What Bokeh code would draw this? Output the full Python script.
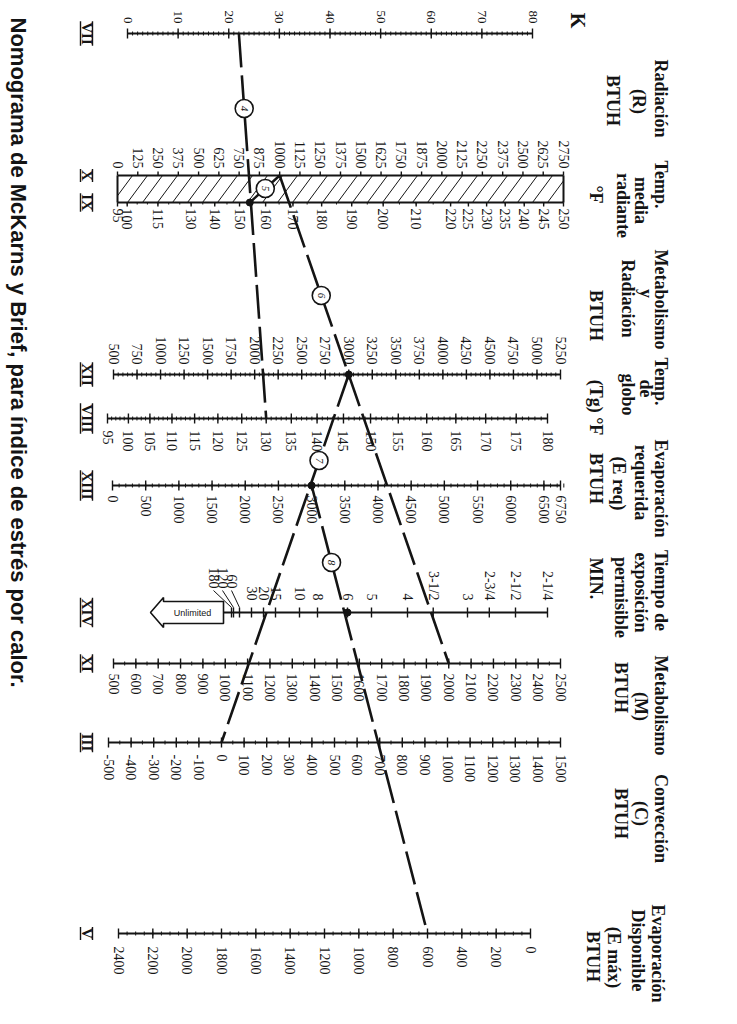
import numpy as np
from bokeh.plotting import figure
from bokeh.models import Range1d
from bokeh.core.properties import value
from bokeh.embed import file_html
from bokeh.resources import INLINE

# ---------------- scale values ----------------
K_LABELS = [0, 10, 20, 30, 40, 50, 60, 70, 80]
R_LABELS = [0, 125, 250, 375, 500, 625, 750, 875, 1000, 1125, 1250, 1375, 1500,
            1625, 1750, 1875, 2000, 2125, 2250, 2375, 2500, 2625, 2750]
TR_LABELS = [95, 100, 115, 130, 140, 150, 160, 170, 180, 190, 200, 210, 220,
             225, 230, 235, 240, 245, 250]
MR_LABELS = [500, 750, 1000, 1250, 1500, 1750, 2000, 2250, 2500, 2750, 3000,
             3250, 3500, 3750, 4000, 4250, 4500, 4750, 5000, 5250]
TG_LABELS = [95, 100, 105, 110, 115, 120, 125, 130, 135, 140, 145, 150, 155,
             160, 165, 170, 175, 180]
EREQ_LABELS = [0, 500, 1000, 1500, 2000, 2500, 3000, 3500, 4000, 4500, 5000,
               5500, 6000, 6500, 6750]
TIME_VALUES = [2.25, 2.5, 2.75, 3, 3.5, 4, 5, 6, 8, 10, 15, 20, 30, 60, 120, 180]
TIME_TEXT = ["2-1/4", "2-1/2", "2-3/4", "3", "3-1/2", "4", "5", "6", "8", "10",
             "15", "20", "30", "60", "120", "180"]
M_LABELS = [500, 600, 700, 800, 900, 1000, 1100, 1200, 1300, 1400, 1500, 1600,
            1700, 1800, 1900, 2000, 2100, 2200, 2300, 2400, 2500]
C_LABELS = [-500, -400, -300, -200, -100, 0, 100, 200, 300, 400, 500, 600, 700,
            800, 900, 1000, 1100, 1200, 1300, 1400, 1500]
EMAX_LABELS = [0, 200, 400, 600, 800, 1000, 1200, 1400, 1600, 1800, 2000, 2200, 2400]

# worked example
K_READ = 22
TG_READ = 130
TR_READ = 154
R_READ = 1000
MR_READ = 3000
M_READ = 2000
C_READ = 0
EREQ_READ = 3000
EMAX_READ = 600
TIME_READ = 6

TITLE = "Nomograma de McKarns y Brief, para índice de estrés por calor."

INK = "#141414"
SERIF = value("Liberation Serif")
SANS = value("Liberation Sans")

# ---------------- scale geometry (page pixels) ----------------
def f4(t):
    return (t + 459.67) ** 4

SCALES = {
    "K":    dict(y=33,  lo=0,    hi=80,   x0=127, x1=532, kind="lin"),
    "R":    dict(y=175, lo=0,    hi=2750, x0=117, x1=563, kind="lin"),
    "TR":   dict(y=202, lo=95,   hi=250,  x0=117, x1=563, kind="t4"),
    "MR":   dict(y=374, lo=500,  hi=5250, x0=113, x1=560, kind="lin"),
    "TG":   dict(y=418, lo=95,   hi=180,  x0=107, x1=547, kind="t4"),
    "EREQ": dict(y=485, lo=0,    hi=6750, x0=112, x1=560, kind="lin"),
    "TIME": dict(y=612, xinf=227, k=720, kind="inv"),
    "M":    dict(y=663, lo=500,  hi=2500, x0=113, x1=560, kind="lin"),
    "C":    dict(y=742, lo=-500, hi=1500, x0=108, x1=560, kind="lin"),
    "EMAX": dict(y=933, lo=0,    hi=2400, x0=530, x1=118, kind="lin"),
}


def px(key, v):
    s = SCALES[key]
    if s["kind"] == "lin":
        return s["x0"] + (s["x1"] - s["x0"]) * (v - s["lo"]) / (s["hi"] - s["lo"])
    if s["kind"] == "t4":
        return s["x0"] + (s["x1"] - s["x0"]) * (f4(v) - f4(s["lo"])) / (f4(s["hi"]) - f4(s["lo"]))
    return s["xinf"] + s["k"] / v


def pt(key, v):
    return px(key, v), SCALES[key]["y"]


p = figure(width=737, height=1024, x_range=Range1d(0, 737), y_range=Range1d(1024, 0),
           output_backend="svg", toolbar_location=None, min_border=0)
p.axis.visible = False
p.grid.visible = False
p.outline_line_color = None
p.background_fill_color = "white"
p.border_fill_color = "white"

seg_axis = dict(x0=[], y0=[], x1=[], y1=[])
seg_major = dict(x0=[], y0=[], x1=[], y1=[])
seg_minor = dict(x0=[], y0=[], x1=[], y1=[])


def add(store, a, b, c, d):
    store["x0"].append(a); store["y0"].append(b)
    store["x1"].append(c); store["y1"].append(d)


def tick_range(lo, hi, step):
    n = int(round((hi - lo) / step))
    return [lo + i * step for i in range(n + 1)]


def draw_scale(key, labels, minor_step, up, down, mup, mdown, texts=None,
               side="above", gap=10, size="14px"):
    s = SCALES[key]
    y = s["y"]
    lo, hi = s["lo"], s["hi"]
    add(seg_axis, px(key, lo), y, px(key, hi), y)
    if minor_step:
        for v in tick_range(lo, hi, minor_step):
            x = px(key, v)
            add(seg_minor, x, y - mup, x, y + mdown)
    xs = [px(key, v) for v in labels]
    for x in xs:
        add(seg_major, x, y - up, x, y + down)
    txt = texts if texts is not None else [str(v) for v in labels]
    if side == "above":
        p.text(x=xs, y=[y - gap] * len(xs), text=txt, angle=-np.pi / 2,
               text_align="right", text_baseline="middle", text_font=SERIF,
               text_font_size=size, text_color=INK)
    else:
        p.text(x=xs, y=[y + gap] * len(xs), text=txt, angle=-np.pi / 2,
               text_align="left", text_baseline="middle", text_font=SERIF,
               text_font_size=size, text_color=INK)


draw_scale("K", K_LABELS, 1, 5, 5, 2, 2, side="above", gap=10, size="13px")
draw_scale("R", R_LABELS, None, 4, 0, 0, 0, side="above", gap=7)
draw_scale("TR", TR_LABELS, 5, 0, 4, 0, 2, side="below", gap=6)
draw_scale("MR", MR_LABELS, 50, 5, 5, 2, 2, side="above", gap=10)
draw_scale("TG", TG_LABELS, 1, 5, 5, 2, 2, side="below", gap=12)
draw_scale("EREQ", EREQ_LABELS, 100, 5, 5, 2, 2, side="below", gap=10)
draw_scale("M", M_LABELS, 50, 5, 5, 2, 2, side="below", gap=10)
draw_scale("C", C_LABELS, 50, 5, 5, 2, 2, side="below", gap=12)
draw_scale("EMAX", EMAX_LABELS, 50, 5, 5, 2, 2, side="below", gap=13)

# band between radiation and mean radiant temperature
ry, ty = SCALES["R"]["y"], SCALES["TR"]["y"]
bx0, bx1 = SCALES["R"]["x0"], SCALES["R"]["x1"]
add(seg_axis, bx0, ry, bx0, ty)
add(seg_axis, bx1, ry, bx1, ty)
hatch = dict(x0=[], y0=[], x1=[], y1=[])
shift = 20.0
xb = bx0 - shift
while xb < bx1:
    a, b, c, d = xb, ty, xb + shift, ry
    if a < bx0:
        t = (bx0 - a) / shift
        a, b = bx0, ty + (ry - ty) * t
    if c > bx1:
        t = (bx1 - xb) / shift
        c, d = bx1, ty + (ry - ty) * t
    if c > a:
        add(hatch, a, b, c, d)
    xb += 15
p.segment(line_color=INK, line_width=1, **hatch)

# exposure time scale with the unlimited arrow
ts = SCALES["TIME"]
tyy = ts["y"]
add(seg_axis, ts["xinf"] - 4, tyy, px("TIME", TIME_VALUES[0]), tyy)
crowd = {180: 213, 120: 222, 60: 231}
lab_x, lab_y = [], []
for v in TIME_VALUES:
    x = px("TIME", v)
    add(seg_major, x, tyy - 5, x, tyy + 5)
    if v in crowd:
        lx = crowd[v]
        add(seg_minor, lx, tyy - 22, x, tyy - 5)
        lab_x.append(lx); lab_y.append(tyy - 24)
    else:
        lab_x.append(x); lab_y.append(tyy - 12)
p.text(x=lab_x, y=lab_y, text=TIME_TEXT, angle=-np.pi / 2, text_align="right",
       text_baseline="middle", text_font=SERIF, text_font_size="14px", text_color=INK)

bxr = ts["xinf"] - 4
p.patch(x=[bxr, bxr - 60, bxr - 60, bxr - 73, bxr - 60, bxr - 60, bxr],
        y=[tyy - 11, tyy - 11, tyy - 15, tyy, tyy + 15, tyy + 11, tyy + 11],
        fill_color="white", line_color=INK, line_width=1.6)
p.text(x=[bxr - 31], y=[tyy], text=["Unlimited"], text_align="center",
       text_baseline="middle", text_font=SANS, text_font_size="9px", text_color=INK)

p.segment(line_color=INK, line_width=2, **seg_axis)
p.segment(line_color=INK, line_width=1.4, **seg_major)
p.segment(line_color=INK, line_width=1, **seg_minor)

# ---------------- key lines of the worked example ----------------
k_pt, tg_pt = pt("K", K_READ), pt("TG", TG_READ)
tr_pt, r_pt = pt("TR", TR_READ), pt("R", R_READ)
mr_pt, m_pt = pt("MR", MR_READ), pt("M", M_READ)
c_pt, ereq_pt = pt("C", C_READ), pt("EREQ", EREQ_READ)
emax_pt, time_pt = pt("EMAX", EMAX_READ), pt("TIME", TIME_READ)

dash = dict(line_color=INK, line_width=2.6, line_dash="34 8")
for a, b in [(k_pt, tg_pt), (r_pt, m_pt), (mr_pt, c_pt), (ereq_pt, emax_pt)]:
    p.line(x=[a[0], b[0]], y=[a[1], b[1]], **dash)
p.line(x=[tr_pt[0], r_pt[0]], y=[tr_pt[1], r_pt[1]], line_color=INK, line_width=2.4)

p.scatter(x=[mr_pt[0], ereq_pt[0], time_pt[0], tr_pt[0]],
          y=[mr_pt[1], ereq_pt[1], time_pt[1], tr_pt[1]],
          size=7, color=INK)


def along(a, b, y):
    t = (y - a[1]) / (b[1] - a[1])
    return a[0] + t * (b[0] - a[0])


circ_y = [108, 188, 295, 460, 562]
circ_lines = [(k_pt, tg_pt), (tr_pt, r_pt), (r_pt, m_pt), (mr_pt, c_pt), (ereq_pt, emax_pt)]
circ_x = [along(a, b, y) for (a, b), y in zip(circ_lines, circ_y)]
p.scatter(x=circ_x, y=circ_y, size=18, fill_color="white", line_color=INK, line_width=1.6)
p.text(x=circ_x, y=circ_y, text=["4", "5", "6", "7", "8"], angle=-np.pi / 2,
       text_align="center", text_baseline="middle", text_font=SERIF,
       text_font_style="italic", text_font_size="11px", text_color=INK)

# ---------------- roman scale numbers ----------------
ROMAN = [("VII", "K"), ("X", "R"), ("IX", "TR"), ("XII", "MR"), ("VIII", "TG"),
         ("XIII", "EREQ"), ("XIV", "TIME"), ("XI", "M"), ("III", "C"), ("V", "EMAX")]
cw = {"X": 0.722, "I": 0.389, "V": 0.722}
rx = 86
bars = dict(x0=[], y0=[], x1=[], y1=[])
for txt, key in ROMAN:
    y = SCALES[key]["y"]
    L = sum(cw[c] for c in txt) * 15 + 2
    add(bars, rx - 6, y - L / 2, rx - 6, y + L / 2)
    add(bars, rx + 6, y - L / 2, rx + 6, y + L / 2)
p.text(x=[rx] * len(ROMAN), y=[SCALES[k]["y"] for _, k in ROMAN], text=[t for t, _ in ROMAN],
       angle=-np.pi / 2, text_align="center", text_baseline="middle", text_font=SERIF,
       text_font_style="bold", text_font_size="15px", text_color=INK)
p.segment(line_color=INK, line_width=1.4, **bars)

# ---------------- headers ----------------
HEAD = [
    ("Radiación", 660, 98), ("(R)", 638, 101), ("BTUH", 612, 100),
    ("Temp.", 660, 184), ("media", 640, 200), ("radiante", 622, 205), ("°F", 595, 194),
    ("Metabolismo", 660, 299), ("y", 645, 293), ("Radiación", 627, 298), ("BTUH", 595, 315),
    ("Temp.", 660, 381), ("de", 645, 388), ("globo", 627, 394), ("(Tg) °F", 595, 407),
    ("Evaporación", 660, 488), ("requerida", 640, 482), ("(E req)", 618, 483), ("BTUH", 595, 478),
    ("Tiempo de", 660, 590), ("exposición", 640, 592), ("permisible", 620, 597), ("MIN.", 595, 578),
    ("Metabolismo", 660, 705), ("(M)", 640, 706), ("BTUH", 620, 687),
    ("Convección", 660, 818), ("(C)", 640, 813), ("BTUH", 620, 813),
    ("Evaporación", 657, 953), ("Disponible", 637, 950), ("(E máx)", 613, 957), ("BTUH", 592, 956),
]
p.text(x=[h[1] for h in HEAD], y=[h[2] for h in HEAD], text=[h[0] for h in HEAD],
       angle=-np.pi / 2, text_align="center", text_baseline="middle", text_font=SERIF,
       text_font_style="bold", text_font_size="18px", text_color=INK)
p.text(x=[577], y=[20], text=["K"], angle=-np.pi / 2, text_align="center",
       text_baseline="middle", text_font=SERIF, text_font_style="bold",
       text_font_size="20px", text_color=INK)

# ---------------- title ----------------
p.text(x=[18], y=[17], text=[TITLE], angle=-np.pi / 2, text_align="left",
       text_baseline="middle", text_font=SANS, text_font_style="bold",
       text_font_size="22px", text_color=INK)

open("out.html", "w").write(file_html(p, INLINE))
